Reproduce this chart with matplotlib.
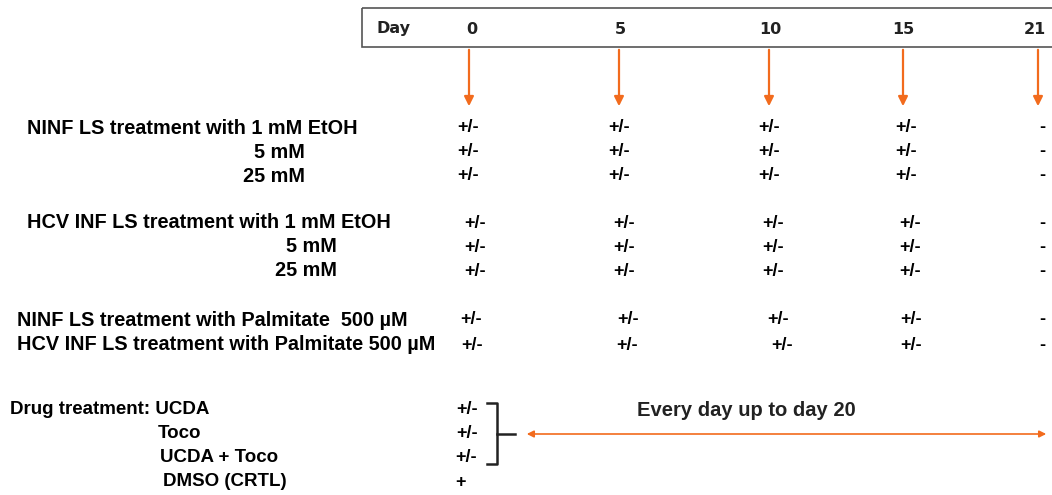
import matplotlib
matplotlib.use("Agg")
import matplotlib.pyplot as plt
from matplotlib.patches import Rectangle, FancyArrowPatch

# ---- data ----
days = ["0", "5", "10", "15", "21"]
row_labels = [
    "NINF LS treatment with 1 mM EtOH", "5 mM", "25 mM",
    "HCV INF LS treatment with 1 mM EtOH", "5 mM", "25 mM",
    "NINF LS treatment with Palmitate  500 \u00b5M",
    "HCV INF LS treatment with Palmitate 500 \u00b5M",
]
row_marks = [
    ["+/-", "+/-", "+/-", "+/-", "-"],
    ["+/-", "+/-", "+/-", "+/-", "-"],
    ["+/-", "+/-", "+/-", "+/-", "-"],
    ["+/-", "+/-", "+/-", "+/-", "-"],
    ["+/-", "+/-", "+/-", "+/-", "-"],
    ["+/-", "+/-", "+/-", "+/-", "-"],
    ["+/-", "+/-", "+/-", "+/-", "-"],
    ["+/-", "+/-", "+/-", "+/-", "-"],
]
drug_labels = ["Drug treatment: UCDA", "Toco", "UCDA + Toco", "DMSO (CRTL)"]
drug_marks = ["+/-", "+/-", "+/-", "+"]
span_text = "Every day up to day 20"

# ---- layout ----
W, H = 1052, 495
fig = plt.figure(figsize=(W / 100, H / 100), dpi=100)
ax = fig.add_axes([0, 0, 1, 1])
ax.set_xlim(0, W)
ax.set_ylim(H, 0)
ax.axis("off")

ORANGE = "#f26b1d"
FONT = "Liberation Sans"
FS = 14.3
FS_DRUG = 13.5
FS_MARK = 13

# header box
ax.add_patch(Rectangle((362, 8), 720, 39, fill=False, edgecolor="#555555", lw=1.2))
ax.text(393, 29, "Day", ha="center", va="center", fontsize=11.5, fontweight="bold",
        family="DejaVu Sans", color="#222222")
day_x = [472, 620, 770, 903, 1035]
arrow_x = [469, 619, 769, 903, 1038]
for d, x, ax_x in zip(days, day_x, arrow_x):
    ax.text(x, 29, d, ha="center", va="center", fontsize=11.5, fontweight="bold",
            family="DejaVu Sans", color="#222222")
    ax.add_patch(FancyArrowPatch((ax_x, 47), (ax_x, 109), arrowstyle="-|>",
                                 mutation_scale=14, color=ORANGE, lw=1.6))

# treatment rows
row_y = [128, 152, 176, 223, 247, 271, 320, 345]
row_x = [27, 305, 305, 27, 337, 337, 17, 17]
row_ha = ["left", "right", "right", "left", "right", "right", "left", "left"]
mark_x = [
    [468, 619, 769, 906, 1042],
    [468, 619, 769, 906, 1042],
    [468, 619, 769, 906, 1042],
    [475, 624, 773, 910, 1042],
    [475, 624, 773, 910, 1042],
    [475, 624, 773, 910, 1042],
    [471, 628, 778, 911, 1042],
    [472, 627, 782, 911, 1042],
]
for lab, y, x, ha, marks, mx in zip(row_labels, row_y, row_x, row_ha, row_marks, mark_x):
    ax.text(x, y, lab, ha=ha, va="center", fontsize=FS, fontweight="bold", family=FONT)
    for m, xx in zip(marks, mx):
        ax.text(xx, y, m, ha="center", va="center", fontsize=FS_MARK, fontweight="bold", family=FONT)

# drug rows
drug_y = [410, 434, 457, 482]
drug_x = [10, 158, 160, 163]
drug_mx = [467, 467, 466, 461]
for lab, y, x, m, mx in zip(drug_labels, drug_y, drug_x, drug_marks, drug_mx):
    ax.text(x, y, lab, ha="left", va="center", fontsize=FS_DRUG, fontweight="bold", family=FONT)
    ax.text(mx, y, m, ha="center", va="center", fontsize=FS_MARK, fontweight="bold", family=FONT)

# bracket
ax.plot([487, 497, 497, 487], [403, 403, 464, 464], color="#222222", lw=1.8)
ax.plot([497, 515], [434, 434], color="#222222", lw=1.8)

# span arrow
ax.add_patch(FancyArrowPatch((524, 434), (1049, 434), arrowstyle="<|-|>",
                             mutation_scale=10, color=ORANGE, lw=1.2))
ax.text(637, 411, span_text, ha="left", va="center", fontsize=14.5, fontweight="bold",
        family=FONT, color="#222222")

fig.savefig("out.png", dpi=100)
